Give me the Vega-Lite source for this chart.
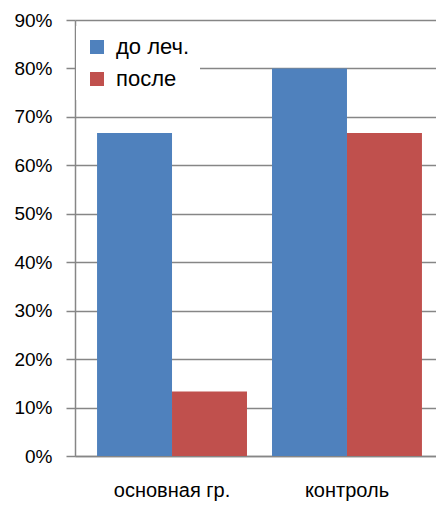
{
  "$schema": "https://vega.github.io/schema/vega-lite/v6.json",
  "width": 361,
  "height": 436,
  "autosize": {"type": "none"},
  "padding": {"left": 75, "top": 20, "right": 0, "bottom": 50},
  "background": "white",
  "data": {
    "values": [
      {"group": "основная гр.", "series": "до леч.", "value": 0.667},
      {"group": "основная гр.", "series": "после", "value": 0.133},
      {"group": "контроль", "series": "до леч.", "value": 0.80},
      {"group": "контроль", "series": "после", "value": 0.667}
    ]
  },
  "mark": {"type": "bar"},
  "encoding": {
    "x": {
      "field": "group",
      "type": "nominal",
      "sort": ["основная гр.", "контроль"],
      "scale": {"range": [0, 369], "paddingInner": 0.143, "paddingOuter": 0.126},
      "axis": {
        "title": null,
        "labelAngle": 0,
        "labelFontSize": 20,
        "labelFont": "Liberation Sans",
        "labelColor": "#000000",
        "labelPadding": 24,
        "ticks": false,
        "domainColor": "#868686",
        "domainWidth": 1.5
      }
    },
    "xOffset": {"field": "series", "type": "nominal", "sort": ["до леч.", "после"]},
    "y": {
      "field": "value",
      "type": "quantitative",
      "scale": {"domain": [0, 0.9], "nice": false},
      "axis": {
        "title": null,
        "format": ".0%",
        "values": [0, 0.1, 0.2, 0.3, 0.4, 0.5, 0.6, 0.7, 0.8, 0.9],
        "labelFontSize": 19,
        "labelFont": "Liberation Sans",
        "labelColor": "#000000",
        "labelPadding": 14,
        "tickSize": 9,
        "tickColor": "#868686",
        "tickWidth": 1.5,
        "gridColor": "#868686",
        "gridWidth": 1.5,
        "domainColor": "#868686",
        "domainWidth": 1.5
      }
    },
    "color": {
      "field": "series",
      "type": "nominal",
      "sort": ["до леч.", "после"],
      "scale": {"domain": ["до леч.", "после"], "range": ["#4F81BD", "#C0504D"]},
      "legend": {
        "title": null,
        "orient": "none",
        "legendX": 1,
        "legendY": 6,
        "fillColor": "white",
        "padding": 10,
        "symbolType": "square",
        "symbolSize": 196,
        "symbolStrokeWidth": 0,
        "symbolOpacity": 1,
        "labelFontSize": 22,
        "labelFont": "Liberation Sans",
        "labelColor": "#000000",
        "labelOffset": 8,
        "rowPadding": 10
      }
    }
  },
  "config": {"view": {"stroke": null}}
}
